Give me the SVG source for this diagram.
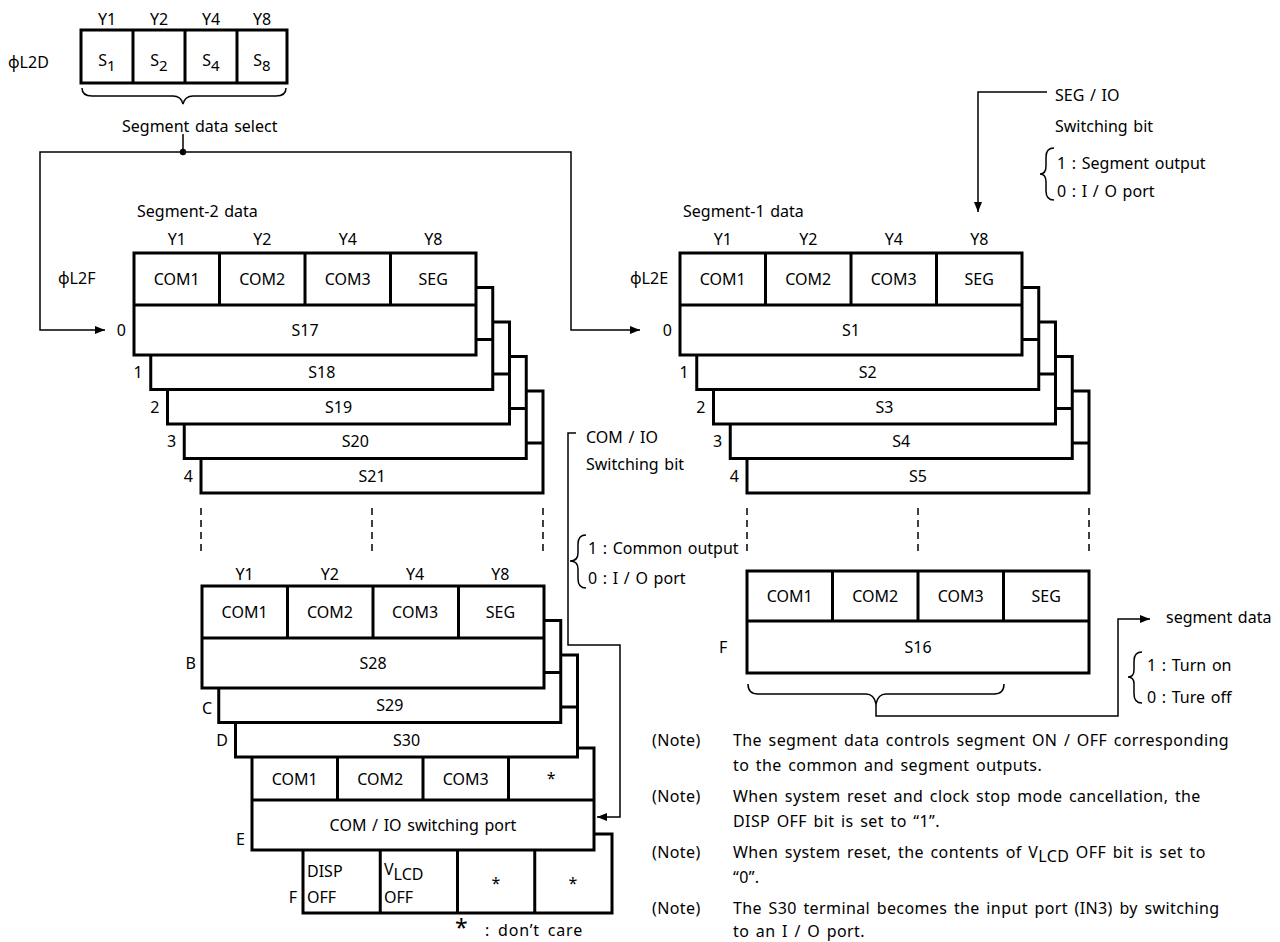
<svg xmlns="http://www.w3.org/2000/svg" width="1280" height="942" viewBox="0 0 1280 942">
<style>
.t{font-family:"Noto Sans","DejaVu Sans",sans-serif;font-size:16px;fill:#000;word-spacing:1.5px}
.n{letter-spacing:0.4px;word-spacing:2px}
.m{text-anchor:middle}
.e{text-anchor:end}
.box{fill:#fff;stroke:#000;stroke-width:3}
.div{stroke:#000;stroke-width:3;fill:none}
.ln{fill:none;stroke:#000;stroke-width:1.5}
.dash{fill:none;stroke:#000;stroke-width:1.5;stroke-dasharray:7 5}
</style>
<defs>
<marker id="ah" viewBox="0 0 10 8" refX="10" refY="4" markerWidth="10" markerHeight="8" markerUnits="userSpaceOnUse" orient="auto"><path d="M0,0 L10,4 L0,8 z" fill="#000"/></marker>
</defs>
<rect width="1280" height="942" fill="#fff"/>

<g id="connectors">
<path class="ln" d="M183,134 V152"/>
<circle cx="183" cy="152" r="3.2" fill="#000"/>
<path class="ln" d="M183,152 H40 V330 H105" marker-end="url(#ah)"/>
<path class="ln" d="M183,152 H571 V330 H640" marker-end="url(#ah)"/>
<path class="ln" d="M1047,92 H978 V212" marker-end="url(#ah)"/>
<path class="ln" d="M576,433 H568 V645 H620 V817 H597" marker-end="url(#ah)"/>
<path class="ln" d="M876,704 V716 H1118 V619 H1150" marker-end="url(#ah)"/>
<path class="dash" d="M201,508 V553 M372,508 V553 M543,508 V553 M747,508 V553 M918,508 V553 M1089,508 V553"/>
</g>

<g id="seg-select">
<text class="t" x="8" y="68">ϕL2D</text>
<text class="t m" x="107" y="25">Y1</text>
<text class="t m" x="159" y="25">Y2</text>
<text class="t m" x="211" y="25">Y4</text>
<text class="t m" x="262" y="25">Y8</text>
<rect class="box" x="81" y="30" width="206" height="53"/>
<path class="div" d="M133,30 V83 M185,30 V83 M237,30 V83"/>
<text class="t m" x="107" y="66">S<tspan font-size="15" dy="5">1</tspan></text>
<text class="t m" x="159" y="66">S<tspan font-size="15" dy="5">2</tspan></text>
<text class="t m" x="211" y="66">S<tspan font-size="15" dy="5">4</tspan></text>
<text class="t m" x="262" y="66">S<tspan font-size="15" dy="5">8</tspan></text>
<path class="ln" d="M82,88 Q82,96 92,96 L173,96 Q181,96 183,104 Q185,96 193,96 L276,96 Q286,96 286,88"/>
<text class="t" x="122" y="132">Segment data select</text>
</g>

<g id="segment2">
<text class="t" x="137" y="217">Segment-2 data</text>
<text class="t" x="58" y="284">ϕL2F</text>
<text class="t m" x="176.75" y="245">Y1</text>
<text class="t m" x="262.25" y="245">Y2</text>
<text class="t m" x="347.75" y="245">Y4</text>
<text class="t m" x="433.25" y="245">Y8</text>
<rect class="box" x="201" y="391" width="342" height="102"/><path class="div" d="M201,443 H543"/>
<rect class="box" x="184.25" y="356.5" width="342" height="102"/><path class="div" d="M184.25,408.5 H526.25"/>
<rect class="box" x="167.5" y="322" width="342" height="102"/><path class="div" d="M167.5,374 H509.5"/>
<rect class="box" x="150.75" y="287.5" width="342" height="102"/><path class="div" d="M150.75,339.5 H492.75"/>
<rect class="box" x="134" y="253" width="342" height="102"/>
<path class="div" d="M134,305 H476 M219.5,253 V305 M305,253 V305 M390.5,253 V305"/>
<text class="t m" x="176.75" y="285">COM1</text>
<text class="t m" x="262.25" y="285">COM2</text>
<text class="t m" x="347.75" y="285">COM3</text>
<text class="t m" x="433.25" y="285">SEG</text>
<text class="t m" x="305" y="336">S17</text>
<text class="t m" x="321.75" y="378">S18</text>
<text class="t m" x="338.5" y="413">S19</text>
<text class="t m" x="355.25" y="447">S20</text>
<text class="t m" x="372" y="482">S21</text>
<text class="t e" x="126" y="336">0</text>
<text class="t e" x="142.75" y="378">1</text>
<text class="t e" x="159.5" y="413">2</text>
<text class="t e" x="176.25" y="447">3</text>
<text class="t e" x="193" y="482">4</text>
</g>

<g id="segment1">
<text class="t" x="683" y="217">Segment-1 data</text>
<text class="t" x="630" y="284">ϕL2E</text>
<text class="t m" x="722.75" y="245">Y1</text>
<text class="t m" x="808.25" y="245">Y2</text>
<text class="t m" x="893.75" y="245">Y4</text>
<text class="t m" x="979.25" y="245">Y8</text>
<rect class="box" x="747" y="391" width="342" height="102"/><path class="div" d="M747,443 H1089"/>
<rect class="box" x="730.25" y="356.5" width="342" height="102"/><path class="div" d="M730.25,408.5 H1072.25"/>
<rect class="box" x="713.5" y="322" width="342" height="102"/><path class="div" d="M713.5,374 H1055.5"/>
<rect class="box" x="696.75" y="287.5" width="342" height="102"/><path class="div" d="M696.75,339.5 H1038.75"/>
<rect class="box" x="680" y="253" width="342" height="102"/>
<path class="div" d="M680,305 H1022 M765.5,253 V305 M851,253 V305 M936.5,253 V305"/>
<text class="t m" x="722.75" y="285">COM1</text>
<text class="t m" x="808.25" y="285">COM2</text>
<text class="t m" x="893.75" y="285">COM3</text>
<text class="t m" x="979.25" y="285">SEG</text>
<text class="t m" x="851" y="336">S1</text>
<text class="t m" x="867.75" y="378">S2</text>
<text class="t m" x="884.5" y="413">S3</text>
<text class="t m" x="901.25" y="447">S4</text>
<text class="t m" x="918" y="482">S5</text>
<text class="t e" x="672" y="336">0</text>
<text class="t e" x="688.75" y="378">1</text>
<text class="t e" x="705.5" y="413">2</text>
<text class="t e" x="722.25" y="447">3</text>
<text class="t e" x="739" y="482">4</text>
</g>

<g id="seg-io-bit">
<text class="t" x="1055" y="101">SEG / IO</text>
<text class="t" x="1055" y="132">Switching bit</text>
<path class="ln" d="M1054,148 Q1046,148 1046,157 L1046,166 Q1046,174 1040,174 Q1046,174 1046,182 L1046,191 Q1046,200 1054,200"/>
<text class="t" x="1057" y="169">1 : Segment output</text>
<text class="t" x="1057" y="197">0 : I / O port</text>
</g>

<g id="com-io-bit">
<text class="t" x="586" y="443">COM / IO</text>
<text class="t" x="586" y="470">Switching bit</text>
<path class="ln" d="M586,535 Q578,535 578,544 L578,553 Q578,561 570,561 Q578,561 578,569 L578,579 Q578,588 586,588"/>
<text class="t" x="588" y="554">1 : Common output</text>
<text class="t" x="588" y="584">0 : I / O port</text>
</g>

<g id="segment2-tail">
<text class="t m" x="244.6" y="580">Y1</text>
<text class="t m" x="329.9" y="580">Y2</text>
<text class="t m" x="415.1" y="580">Y4</text>
<text class="t m" x="500.4" y="580">Y8</text>
<rect class="box" x="303" y="834" width="309" height="79"/>
<path class="div" d="M380.25,834 V913 M457.5,834 V913 M534.75,834 V913"/>
<rect class="box" x="252" y="748" width="342" height="102"/>
<path class="div" d="M252,800 H594 M337.5,748 V800 M423,748 V800 M508.5,748 V800"/>
<rect class="box" x="235.5" y="655" width="342" height="102"/><path class="div" d="M235.5,707 H577.5"/>
<rect class="box" x="218.75" y="620.5" width="342" height="102"/><path class="div" d="M218.75,672.5 H560.75"/>
<rect class="box" x="202" y="586" width="342" height="102"/>
<path class="div" d="M202,638 H544 M287.5,586 V638 M373,586 V638 M458.5,586 V638"/>
<text class="t m" x="244.6" y="618">COM1</text>
<text class="t m" x="329.9" y="618">COM2</text>
<text class="t m" x="415.1" y="618">COM3</text>
<text class="t m" x="500.4" y="618">SEG</text>
<text class="t m" x="373" y="669">S28</text>
<text class="t m" x="389.75" y="711">S29</text>
<text class="t m" x="406.5" y="746">S30</text>
<text class="t m" x="294.75" y="785">COM1</text>
<text class="t m" x="380.25" y="785">COM2</text>
<text class="t m" x="465.75" y="785">COM3</text>
<text class="t m" x="551.25" y="784">*</text>
<text class="t m" x="423" y="831">COM / IO switching port</text>
<text class="t" x="307" y="877">DISP</text>
<text class="t" x="307" y="903">OFF</text>
<text class="t" x="384" y="875">V<tspan dy="5">LCD</tspan></text>
<text class="t" x="384" y="903">OFF</text>
<text class="t m" x="496" y="889">*</text>
<text class="t m" x="573" y="889">*</text>
<text class="t e" x="196" y="669">B</text>
<text class="t e" x="212" y="714">C</text>
<text class="t e" x="228" y="746">D</text>
<text class="t e" x="245" y="845">E</text>
<text class="t e" x="297" y="903">F</text>
<text class="t" x="455" y="936"><tspan font-size="23">*</tspan><tspan x="477" letter-spacing="0.8" word-spacing="3"> : don’t care</tspan></text>
</g>

<g id="segment1-tail">
<rect class="box" x="747" y="571" width="342" height="102"/>
<path class="div" d="M747,621 H1089 M832.5,571 V621 M918,571 V621 M1003.5,571 V621"/>
<text class="t m" x="789.75" y="602">COM1</text>
<text class="t m" x="875.25" y="602">COM2</text>
<text class="t m" x="960.75" y="602">COM3</text>
<text class="t m" x="1046.25" y="602">SEG</text>
<text class="t m" x="918" y="653">S16</text>
<text class="t" x="719" y="653">F</text>
<path class="ln" d="M748,684 Q748,694 758,694 L866,694 Q874,694 876,704 Q878,694 886,694 L994,694 Q1004,694 1004,684"/>
<text class="t" x="1166" y="623">segment data</text>
<path class="ln" d="M1142,652 Q1134,652 1134,661 L1134,670 Q1134,677 1128,677 Q1134,677 1134,684 L1134,694 Q1134,703 1142,703"/>
<text class="t" x="1147" y="671">1 : Turn on</text>
<text class="t" x="1147" y="703">0 : Ture off</text>
</g>

<g id="notes">
<text class="t n" x="652" y="746">(Note)</text>
<text class="t n" x="733" y="746">The segment data controls segment ON / OFF corresponding</text>
<text class="t n" x="733" y="771">to the common and segment outputs.</text>
<text class="t n" x="652" y="802">(Note)</text>
<text class="t n" x="733" y="802">When system reset and clock stop mode cancellation, the</text>
<text class="t n" x="733" y="827">DISP OFF bit is set to “1”.</text>
<text class="t n" x="652" y="858">(Note)</text>
<text class="t n" x="733" y="858">When system reset, the contents of V<tspan dy="4">LCD</tspan><tspan dy="-4"> OFF bit is set to</tspan></text>
<text class="t n" x="733" y="883">“0”.</text>
<text class="t n" x="652" y="914">(Note)</text>
<text class="t n" x="733" y="914">The S30 terminal becomes the input port (IN3) by switching</text>
<text class="t n" x="733" y="937">to an I / O port.</text>
</g>
</svg>
